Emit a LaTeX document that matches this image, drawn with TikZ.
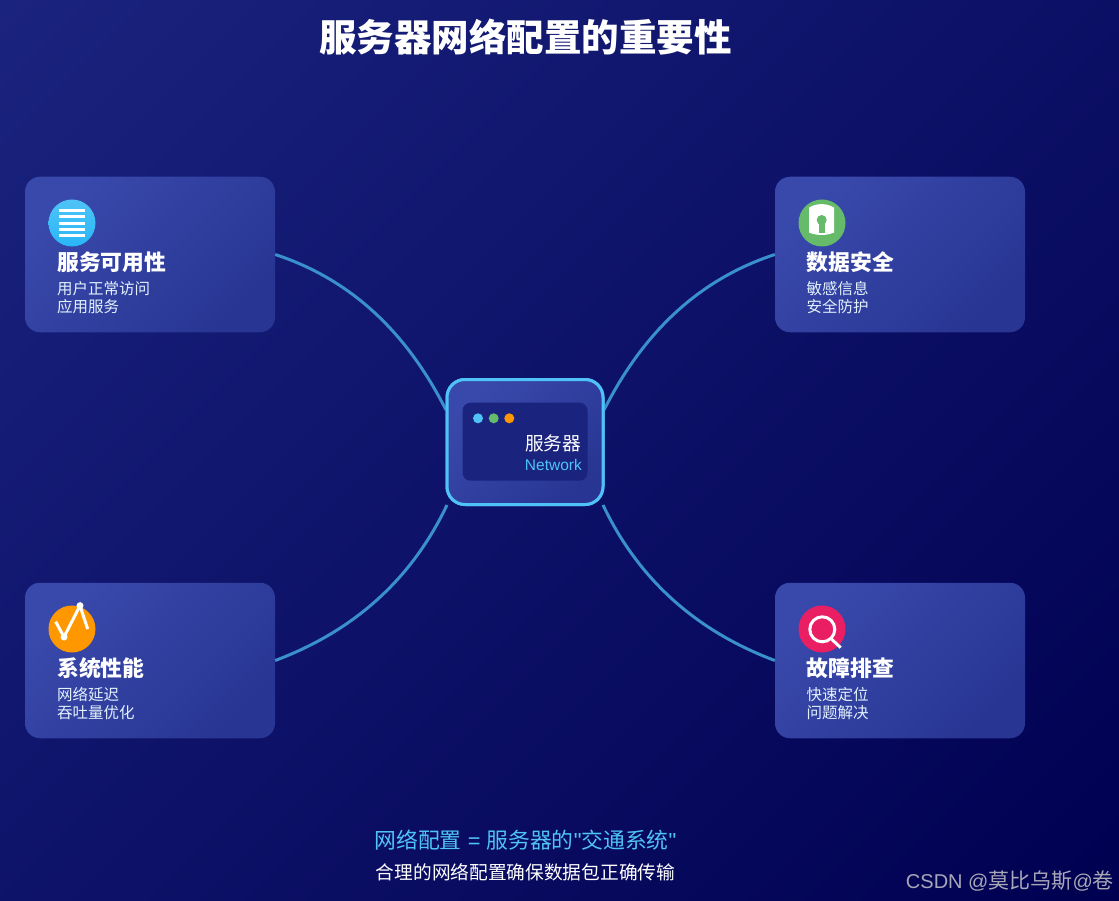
\documentclass[tikz,border=0pt]{standalone}
\usepackage{fontspec}
\setmainfont{Liberation Sans}
\newfontfamily\cjk{Noto Sans CJK SC}
\newfontfamily\latn{Liberation Sans}
\usetikzlibrary{calc}
\definecolor{bgA}{HTML}{1A237E}
\definecolor{bgB}{HTML}{000051}
\definecolor{cardA}{HTML}{3949AB}
\definecolor{cardB}{HTML}{283593}
\definecolor{sky}{HTML}{4FC3F7}
\definecolor{sky2}{HTML}{29B6F6}
\definecolor{grn}{HTML}{66BB6A}
\definecolor{org}{HTML}{FF9800}
\definecolor{pnk}{HTML}{E91E63}
\definecolor{subt}{HTML}{E3F2FD}
\definecolor{linkc}{HTML}{3A90CC}
\definecolor{wmk}{HTML}{A8A8B8}
\tikzset{
  cardbox/.style={inner sep=0pt,minimum width=250pt,minimum height=155.5pt,rounded corners=15pt,
    top color=cardA,bottom color=cardB,shading angle=45},
  srvbox/.style={inner sep=0pt,minimum width=156pt,minimum height=125pt,rounded corners=18pt,
    draw=sky,line width=3pt,top color=cardA,bottom color=cardB,shading angle=45},
  srvin/.style={inner sep=0pt,minimum width=125pt,minimum height=78pt,rounded corners=8pt,fill=bgA},
  link/.style={draw=linkc,line width=3pt},
  badge/.style={circle,inner sep=0pt,minimum size=47pt},
  dotn/.style={circle,inner sep=0pt,minimum size=10pt},
  ttl/.style={anchor=base west,inner sep=0pt,text=white,font=\cjk\bfseries\fontsize{21.8}{24}\selectfont},
  sub/.style={anchor=base west,inner sep=0pt,text=subt,font=\cjk\fontsize{15.5}{18}\selectfont},
  ico/.style={draw=white,line width=3pt},
}
\begin{document}
\begin{tikzpicture}[x=1pt,y=-1pt]
\useasboundingbox (0,0) rectangle (1119,901);
\begin{scope}
\clip (0,0) rectangle (1119,901);
\begin{scope}[transform canvas={shift={(559.5,450.5)},rotate=45}]
\shade[top color=bgA,bottom color=bgB] (-714,-714) rectangle (714,714);
\end{scope}
\end{scope}

\node[anchor=base,inner sep=0pt,text=white,font=\cjk\bfseries\fontsize{37.5}{40}\selectfont] (title) at (525.5,52) {服务器网络配置的重要性};

% cards
\node[cardbox] (c1) at (150,254.5) {};
\node[cardbox] (c2) at (900,254.5) {};
\node[cardbox] (c3) at (150,660.5) {};
\node[cardbox] (c4) at (900,660.5) {};
% server
\node[srvbox] (srv) at (525,442) {};
\coordinate (pA) at ($(srv.west)+(0.5,-32)$);
\coordinate (pB) at ($(srv.east)+(-0.5,-32)$);
\coordinate (pC) at ($(srv.south west)+(1.5,-1)$);
\coordinate (pD) at ($(srv.south east)+(-1.5,-1)$);
\draw[link] (c1.east) .. controls +(73,24) and +(-41,-81) .. (pA);
\draw[link] (c2.west) .. controls +(-73,24) and +(41,-81) .. (pB);
\draw[link] (c3.east) .. controls +(80,-30) and +(-34.7,73) .. (pC);
\draw[link] (c4.west) .. controls +(-80,-30) and +(34.7,73) .. (pD);
\node[srvbox] (srvtop) at (525,442) {};
\node[srvin] (srvi) at (525,441.7) {};
\node[dotn,fill=sky] (d1) at (478,418.3) {};
\node[dotn,fill=grn] (d2) at (493.7,418.3) {};
\node[dotn,fill=org] (d3) at (509.3,418.3) {};
\node[anchor=base east,inner sep=0pt,text=white,font=\cjk\fontsize{18.7}{20}\selectfont] (s1) at (581.5,450.5) {服务器};
\node[anchor=base east,inner sep=0pt,text=sky,font=\fontsize{15.5}{18}\selectfont] (s2) at (582,470) {Network};

% card 1
\node[badge,top color=sky,bottom color=sky2] (b1) at (72,223) {};
\foreach \yy in {210.7,217,223.5,230,235.7} \draw[ico] (59,\yy) -- (85,\yy);
\node[ttl] (t1) at (57,270.5) {服务可用性};
\node[sub] (u1) at (57,294.5) {用户正常访问};
\node[sub] (v1) at (57,312.5) {应用服务};

% card 2
\node[badge,fill=grn] (b2) at (822,223) {};
\fill[white] (809,207.5) .. controls (817,203) and (826,203) .. (834,207.5) -- (834,232.5) .. controls (826,235.8) and (817,235.8) .. (809,232.5) -- cycle;
\fill[grn] (821.7,220) circle (5pt);
\fill[grn] (818.5,221) rectangle (825,233);
\node[ttl] (t2) at (806.5,270.5) {数据安全};
\node[sub] (u2) at (806.5,294.5) {敏感信息};
\node[sub] (v2) at (806.5,312.5) {安全防护};

% card 3
\node[badge,fill=org] (b3) at (72,629) {};
\draw[ico] (55.7,621.7) -- (64,637) -- (80,605.7) -- (87.7,629);
\fill[white] (64,637) circle (3.5pt);
\fill[white] (80,605.7) circle (3.5pt);
\node[ttl] (t3) at (57,676.5) {系统性能};
\node[sub] (u3) at (57,700.5) {网络延迟};
\node[sub] (v3) at (57,718.5) {吞吐量优化};

% card 4
\node[badge,fill=pnk] (b4) at (822,629) {};
\draw[ico] (822.3,629.3) circle (12.5pt);
\draw[ico] (831.7,639.3) -- (840.7,647.7);
\node[ttl] (t4) at (806.5,676.5) {故障排查};
\node[sub] (u4) at (806.5,700.5) {快速定位};
\node[sub] (v4) at (806.5,718.5) {问题解决};

% footer
\node[anchor=base,inner sep=0pt,text=sky,font=\latn\fontsize{21.8}{24}\selectfont] (f1) at (525.5,848.5) {{\cjk 网络配置} = {\cjk 服务器的}"{\cjk 交通系统}"};
\node[anchor=base,inner sep=0pt,text=white,font=\cjk\fontsize{18.7}{21}\selectfont] (f2) at (525.5,879) {合理的网络配置确保数据包正确传输};
\node[anchor=base east,inner sep=0pt,text=wmk,font=\fontsize{20}{24}\selectfont] (wm) at (1114,888) {CSDN @{\cjk\fontsize{21}{24}\selectfont 莫比乌斯}@{\cjk\fontsize{21}{24}\selectfont 卷}};
\end{tikzpicture}
\end{document}
